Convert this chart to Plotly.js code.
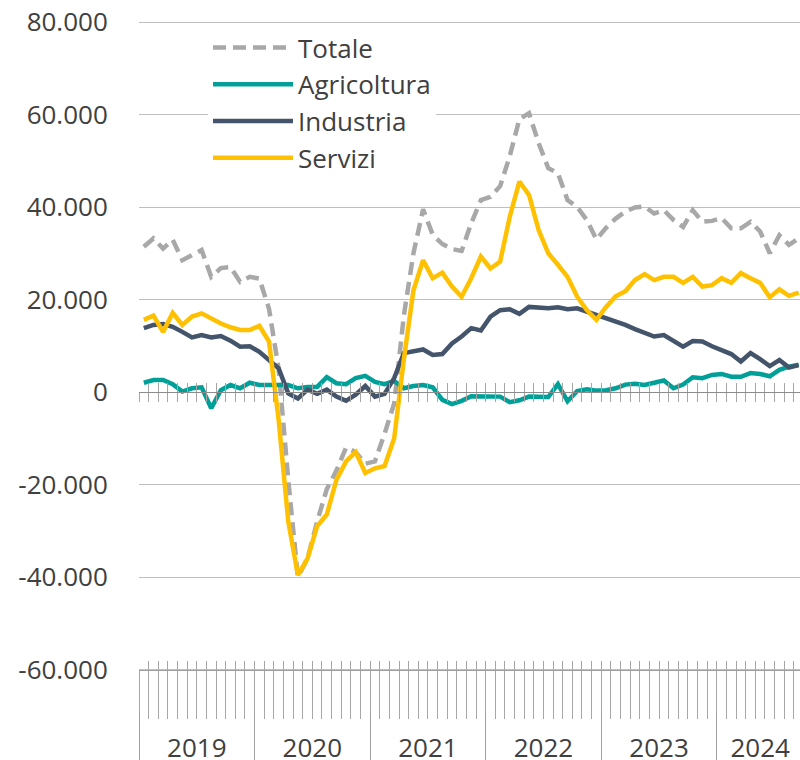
<!DOCTYPE html>
<html>
<head>
<meta charset="utf-8">
<script src="https://cdn.plot.ly/plotly-3.0.1.min.js"></script>
<style>html,body{margin:0;padding:0;background:#fff;}#chart{width:800px;height:760px;}</style>
</head>
<body>
<div id="chart"></div>
<script>
// ---- data ----
const years = ['2019', '2020', '2021', '2022', '2023', '2024'];
const monthsPerYear = [12, 12, 12, 12, 12, 9];
const seriesNames = ['Totale', 'Agricoltura', 'Industria', 'Servizi'];

const totale = [
  31400, 33200, 31000, 32900, 28500, 29600, 30700, 24900, 26800, 27000, 23800, 24900,
  24500, 18000, 5000, -19000, -40000, -36000, -28000, -21000, -17000, -12000, -13000, -15500,
  -15000, -9000, -2500, 16500, 30000, 39500, 34000, 32000, 30900, 30500, 36500, 41500,
  42200, 44500, 51000, 59000, 60300, 53800, 48400, 47300, 41500, 40000, 37200, 33000,
  35500, 37500, 39000, 39900, 40100, 38600, 39300, 37200, 35700, 39300, 36800, 37000,
  37600, 35400, 35400, 36800, 34700, 30000, 33900, 31800, 33200
];
const agricoltura = [
  2000, 2600, 2600, 1700, 100, 800, 1000, -3500, 400, 1500, 800, 2000,
  1500, 1500, 1700, 1500, 800, 1100, 1100, 3200, 1900, 1700, 3000, 3500,
  2200, 1700, 2400, 800, 1300, 1500, 1000, -1700, -2600, -1900, -900, -900,
  -1000, -1000, -2200, -1800, -1000, -1000, -1100, 1700, -2000, 200, 600, 300,
  400, 800, 1600, 1800, 1500, 2000, 2500, 800, 1600, 3200, 3000, 3700,
  3900, 3300, 3300, 4100, 3900, 3400, 4800, 5500, 5900
];
const industria = [
  13800, 14500, 14700, 14100, 13000, 11800, 12300, 11800, 12100, 11100, 9800, 9900,
  8700, 6900, 5100, -300, -1400, 500, -400, 500, -1000, -1900, -600, 1300,
  -1000, -400, 3000, 8400, 8800, 9200, 8000, 8200, 10500, 12000, 13800, 13300,
  16300, 17700, 17900, 16900, 18400, 18300, 18100, 18300, 17900, 18100, 17400, 16600,
  16000, 15300, 14500, 13600, 12800, 12000, 12300, 11100, 9800, 11000, 10900, 9900,
  9100, 8200, 6600, 8400, 7100, 5600, 6900, 5300, 5800
];
const servizi = [
  15600, 16500, 13000, 17100, 14500, 16300, 17000, 15900, 14800, 14000, 13400, 13400,
  14300, 10900, -6000, -28000, -39600, -36000, -29000, -26500, -19000, -15000, -13000, -17500,
  -16500, -16000, -10000, 7000, 22000, 28500, 24600, 25800, 22800, 20600, 24600, 29300,
  26700, 28200, 37900, 45500, 42600, 35000, 30000, 27500, 24900, 20600, 17700, 15600,
  18400, 20700, 21800, 24200, 25500, 24200, 24900, 24900, 23600, 24900, 22800, 23100,
  24600, 23600, 25700, 24600, 23600, 20500, 22200, 20800, 21500
];

const yTickVals = [-60000, -40000, -20000, 0, 20000, 40000, 60000, 80000];
const yTickText = ['-60.000', '-40.000', '-20.000', '0', '20.000', '40.000', '60.000', '80.000'];

// ---- build categories ----
const categories = [];
years.forEach((y, k) => {
  for (let m = 1; m <= monthsPerYear[k]; m++) categories.push(y + '-' + String(m).padStart(2, '0'));
});
const nCat = categories.length;
const monthBounds = [];
for (let i = 0; i <= nCat; i++) monthBounds.push(i - 0.5);
const yearBounds = [];
const yearCenters = [];
let acc = 0;
years.forEach((y, k) => {
  yearBounds.push(acc - 0.5);
  yearCenters.push(acc - 0.5 + monthsPerYear[k] / 2);
  acc += monthsPerYear[k];
});

// ---- geometry ----
const W = 800, H = 760, mL = 139, mT = 20;
const pxPer20k = 92.5;
const yMax = 80000 + 2 / pxPer20k * 20000;
const plotH = H - mT;
const yMin = yMax - plotH / pxPer20k * 20000;
const xRange = [-0.5, -0.5 + (W - mL) / 9.63];
const fracV = v => (v - yMin) / (yMax - yMin);
const fracPx = p => (H - p) / plotH;

const FONT = '"Open Sans", "Segoe UI", sans-serif';
const TXT = '#404040';
const colors = {Totale: '#a8a8a8', Agricoltura: '#00a099', Industria: '#44546a', Servizi: '#ffc000'};
const vals = {Totale: totale, Agricoltura: agricoltura, Industria: industria, Servizi: servizi};

const traces = seriesNames.map(n => ({
  type: 'scatter', mode: 'lines', name: n,
  x: categories, y: vals[n],
  line: {color: colors[n], width: 4.5, dash: n === 'Totale' ? '13px,7px' : 'solid'},
  hoverinfo: 'skip'
}));

// empty helper traces so that the decoration axes get drawn
['x2', 'x3', 'x4', 'x5', 'x6', 'x7'].forEach(ax => {
  traces.unshift({
    type: 'scatter', mode: 'lines', x: [null], y: [null], xaxis: ax, yaxis: 'y',
    showlegend: false, hoverinfo: 'skip'
  });
});

const baseDeco = {
  type: 'linear', range: xRange, overlaying: 'x', anchor: 'free', side: 'bottom',
  showgrid: false, zeroline: false, showticklabels: false, tickmode: 'array',
  fixedrange: true
};
const tickCol = '#a6a6a6';

const layout = {
  width: W, height: H,
  margin: {l: mL, r: 0, t: mT, b: 0, pad: 0},
  paper_bgcolor: '#fff', plot_bgcolor: 'rgba(0,0,0,0)',
  font: {family: FONT, color: TXT, size: 26},
  showlegend: true,
  legend: {
    x: (208 - mL) / (W - mL), xanchor: 'left',
    y: fracPx(24), yanchor: 'top',
    bgcolor: '#ffffff', borderwidth: 0,
    font: {family: FONT, size: 26, color: TXT},
    itemwidth: 80, tracegroupgap: 0
  },
  xaxis: {
    type: 'category', range: xRange, visible: false, fixedrange: true
  },
  yaxis: {
    range: [yMin, yMax], tickmode: 'array', tickvals: yTickVals, ticktext: yTickText,
    showgrid: true, gridcolor: '#bfbfbf', gridwidth: 1, zeroline: false, showline: false,
    ticks: 'outside', ticklen: 25, tickcolor: 'rgba(0,0,0,0)',
    tickfont: {family: FONT, size: 26, color: TXT}, fixedrange: true
  },
  // bottom axis line at -60.000 with month ticks below
  xaxis2: Object.assign({}, baseDeco, {
    position: fracV(-60000), showline: true, linecolor: '#a0a0a0', linewidth: 1,
    tickvals: monthBounds, ticks: 'outside', ticklen: 48, tickcolor: tickCol, tickwidth: 1
  }),
  // month ticks above bottom line
  xaxis3: Object.assign({}, baseDeco, {
    position: fracV(-60000), showline: false,
    tickvals: monthBounds, ticks: 'inside', ticklen: 9, tickcolor: tickCol, tickwidth: 1
  }),
  // zero line with crossing ticks
  xaxis4: Object.assign({}, baseDeco, {
    position: fracV(0), showline: true, linecolor: '#8c8c8c', linewidth: 1,
    tickvals: monthBounds, ticks: 'outside', ticklen: 9, tickcolor: tickCol, tickwidth: 1
  }),
  xaxis5: Object.assign({}, baseDeco, {
    position: fracV(0), showline: false,
    tickvals: monthBounds, ticks: 'inside', ticklen: 9, tickcolor: tickCol, tickwidth: 1
  }),
  // year separators
  xaxis6: Object.assign({}, baseDeco, {
    position: fracPx(710), showline: false,
    tickvals: yearBounds, ticks: 'outside', ticklen: 52, tickcolor: '#a0a0a0', tickwidth: 1
  }),
  // year labels
  xaxis7: Object.assign({}, baseDeco, {
    position: fracPx(730), showline: false, showticklabels: true,
    tickvals: yearCenters, ticktext: years, ticks: '',
    tickfont: {family: FONT, size: 26, color: TXT}
  })
};

Plotly.newPlot('chart', traces, layout, {displayModeBar: false, staticPlot: true});
</script>
</body>
</html>
